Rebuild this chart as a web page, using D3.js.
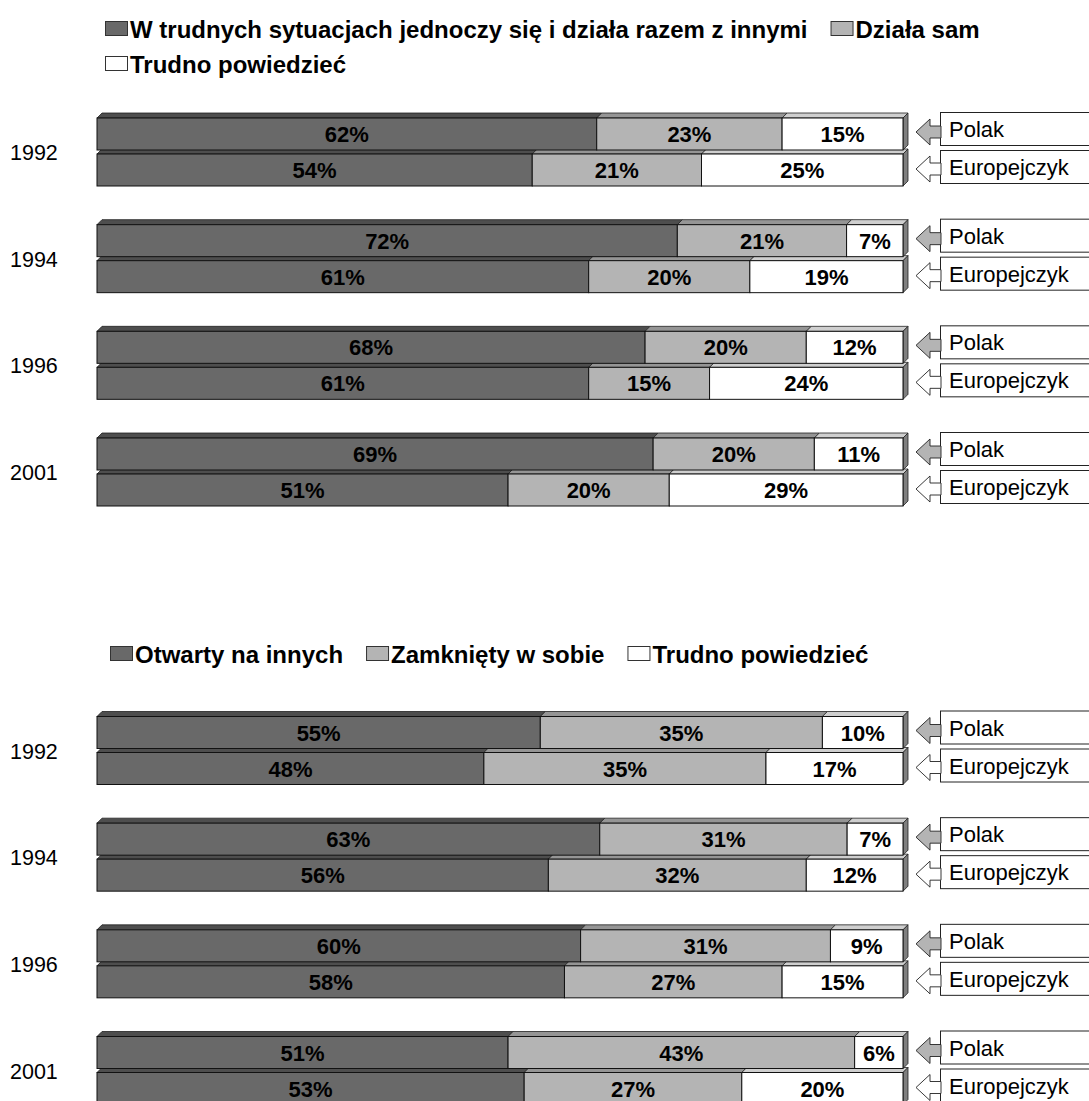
<!DOCTYPE html>
<html>
<head>
<meta charset="utf-8">
<script src="https://cdn.jsdelivr.net/npm/d3@7"></script>
<style>
  html, body { margin: 0; padding: 0; background: #fff; }
  svg { display: block; font-family: "Liberation Sans", Arial, sans-serif; }
</style>
</head>
<body>
<div id="chart"></div>
<script>
// dane (kolejność segmentów: ciemny, jasny, biały)
var years = ['1992', '1994', '1996', '2001'];
var respondents = ['Polak', 'Europejczyk'];

var legendTop = ['W trudnych sytuacjach jednoczy się i działa razem z innymi', 'Działa sam', 'Trudno powiedzieć'];
var legendBottom = ['Otwarty na innych', 'Zamknięty w sobie', 'Trudno powiedzieć'];

var topPolak = [[62, 23, 15], [72, 21, 7], [68, 20, 12], [69, 20, 11]];
var topEuropejczyk = [[54, 21, 25], [61, 20, 19], [61, 15, 24], [51, 20, 29]];
var bottomPolak = [[55, 35, 10], [63, 31, 7], [60, 31, 9], [51, 43, 6]];
var bottomEuropejczyk = [[48, 35, 17], [56, 32, 12], [58, 27, 15], [53, 27, 20]];

var W = 1089, H = 1101;
var FRONT = ['#696969', '#b4b4b4', '#ffffff'];
var TOPF = ['#4e4e4e', '#959595', '#cfcfcf'];
var SIDE = '#7f7f7f';
var D = 5;       // głębokość 3D
var BAR_H = 32;

var svg = d3.select('#chart').append('svg')
  .attr('width', W).attr('height', H);

var x = d3.scaleLinear().domain([0, 1]).range([97, 903]);

function legend(items, rows, startX, baseY) {
  var g = svg.append('g');
  var cx = startX, y = baseY;
  items.forEach(function (name, i) {
    if (rows[i]) { cx = startX; y += rows[i]; }
    g.append('rect')
      .attr('x', cx + 0.5).attr('y', y - 16.5)
      .attr('width', 22).attr('height', 14)
      .attr('fill', FRONT[i]).attr('stroke', '#333');
    var t = g.append('text')
      .attr('x', cx + 25).attr('y', y)
      .attr('font-size', 24).attr('font-weight', 'bold')
      .text(name);
    cx += 25 + t.node().getComputedTextLength() + 23;
  });
}

function bar(g, vals, y0) {
  var total = d3.sum(vals);
  var acc = 0;
  var segs = vals.map(function (v, i) {
    var s = { i: i, v: v, a: acc / total, b: (acc + v) / total };
    acc += v;
    return s;
  });
  // górne ściany
  g.selectAll(null).data(segs).enter().append('path')
    .attr('d', function (s) {
      var x0 = x(s.a), x1 = x(s.b);
      return 'M' + x0 + ',' + y0 + 'L' + (x0 + D) + ',' + (y0 - D) +
        'L' + (x1 + D) + ',' + (y0 - D) + 'L' + x1 + ',' + y0 + 'Z';
    })
    .attr('fill', function (s) { return TOPF[s.i]; })
    .attr('stroke', '#222').attr('stroke-width', 0.8);
  // boczna ściana
  var xr = x(1);
  g.append('path')
    .attr('d', 'M' + xr + ',' + y0 + 'L' + (xr + D) + ',' + (y0 - D) +
      'L' + (xr + D) + ',' + (y0 + BAR_H - D) + 'L' + xr + ',' + (y0 + BAR_H) + 'Z')
    .attr('fill', SIDE).attr('stroke', '#222').attr('stroke-width', 0.8);
  // przód
  g.selectAll(null).data(segs).enter().append('rect')
    .attr('x', function (s) { return x(s.a); })
    .attr('y', y0)
    .attr('width', function (s) { return x(s.b) - x(s.a); })
    .attr('height', BAR_H)
    .attr('fill', function (s) { return FRONT[s.i]; })
    .attr('stroke', '#111').attr('stroke-width', 1);
  g.selectAll(null).data(segs).enter().append('text')
    .attr('x', function (s) { return (x(s.a) + x(s.b)) / 2; })
    .attr('y', y0 + BAR_H / 2 + 8)
    .attr('text-anchor', 'middle')
    .attr('font-size', 22).attr('font-weight', 'bold')
    .text(function (s) { return s.v + '%'; });
}

function tag(g, label, cy, boxY, fill) {
  var tip = 916, back = 930, left = 940;
  g.append('rect')
    .attr('x', left + 0.5).attr('y', boxY + 0.5)
    .attr('width', 160).attr('height', 33)
    .attr('fill', '#fff').attr('stroke', '#222');
  g.append('path')
    .attr('d', 'M' + tip + ',' + cy + 'L' + back + ',' + (cy - 13) + 'L' + back + ',' + (cy - 6) +
      'L' + (left + 1) + ',' + (cy - 6) + 'L' + (left + 1) + ',' + (cy + 6) +
      'L' + back + ',' + (cy + 6) + 'L' + back + ',' + (cy + 13) + 'Z')
    .attr('fill', fill).attr('stroke', '#222').attr('stroke-width', 0.9);
  g.append('text')
    .attr('x', left + 9).attr('y', boxY + 25)
    .attr('font-size', 22)
    .text(label);
}

function chart(polak, euro, baseY) {
  var y = d3.scaleLinear().domain([0, years.length - 1]).range([baseY, baseY + 320]);
  years.forEach(function (yr, k) {
    var y0 = y(k);
    var g = svg.append('g');
    bar(g, euro[k], y0 + BAR_H + 4);
    bar(g, polak[k], y0);
    tag(g, respondents[0], y0 + 14, y0 - 6, '#b4b4b4');
    tag(g, respondents[1], y0 + 51, y0 + 32, '#fff');
    g.append('text')
      .attr('x', 10).attr('y', y0 + 42)
      .attr('font-size', 21.5)
      .text(yr);
  });
}

legend(legendTop, [0, 0, 35], 105, 38);
legend(legendBottom, [0, 0, 0], 110, 663);
chart(topPolak, topEuropejczyk, 118);
chart(bottomPolak, bottomEuropejczyk, 716.5);
</script>
</body>
</html>
